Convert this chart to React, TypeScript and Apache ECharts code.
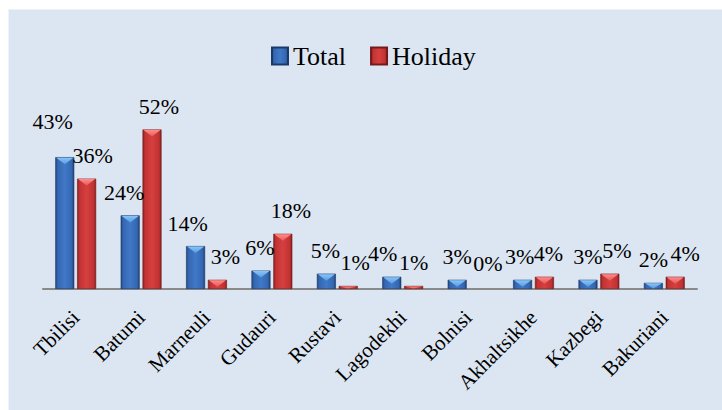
import React, { useEffect, useRef } from "react";
import * as echarts from "echarts";

const categories = ["Tbilisi", "Batumi", "Marneuli", "Gudauri", "Rustavi", "Lagodekhi", "Bolnisi", "Akhaltsikhe", "Kazbegi", "Bakuriani"];
const totalValues = [43, 24, 14, 6, 5, 4, 3, 3, 3, 2];
const holidayValues = [36, 52, 3, 18, 1, 1, 0, 4, 5, 4];
const seriesNames = ["Total", "Holiday"];

// label nudges (pixels) to mimic the reference's manual label placement
const totalLabelShift = [[-12, -13], [-6, 0], [-8, 0], [-1, 0], [-1, 0], [-9, 0], [0, 0], [-3, 0], [0, 0], [0, 0]];
const holidayLabelShift = [[6, 0], [7, 0], [8, 0], [8, 0], [7, 0], [0, 0], [9, -3], [4, 0], [7, 0], [10, 0]];

const FONT = "Liberation Serif";
const BAR_W = 19;
const HALF_PAIR = 10.9;

export default function App() {
  const ref = useRef<HTMLDivElement>(null);
  useEffect(() => {
    if (!ref.current) return;
    const chart = echarts.init(ref.current, undefined, { renderer: "svg" });
    const blueGrad = new echarts.graphic.LinearGradient(0, 0, 1, 0, [
      { offset: 0, color: "#23467f" },
      { offset: 0.12, color: "#3567b2" },
      { offset: 0.5, color: "#4079c8" },
      { offset: 0.88, color: "#3466b0" },
      { offset: 1, color: "#1f3f74" },
    ]);
    const redGrad = new echarts.graphic.LinearGradient(0, 0, 1, 0, [
      { offset: 0, color: "#8a2020" },
      { offset: 0.12, color: "#c23333" },
      { offset: 0.5, color: "#d63f3f" },
      { offset: 0.88, color: "#c03232" },
      { offset: 1, color: "#841e1e" },
    ]);
    const mkLabel = (shift: number[]) => ({
      show: true,
      position: "top",
      distance: 12,
      offset: shift,
      formatter: "{c}%",
      fontFamily: FONT,
      fontSize: 22,
      color: "#000",
    });
    chart.setOption({
      animation: false,
      graphic: {
        elements: [
          {
            type: "rect",
            silent: true,
            z: -100,
            shape: { x: 8.5, y: 9.5, width: 720, height: 410 },
            style: { fill: "#dce6f2", stroke: "#eef3f9", lineWidth: 1 },
          },
        ],
      },
      legend: {
        left: 266,
        top: 38,
        itemWidth: 16,
        itemHeight: 17,
        itemGap: 24,
        icon: "rect",
        textStyle: { fontFamily: FONT, fontSize: 26, color: "#000" },
        data: seriesNames,
      },
      grid: { left: 43, right: 25, top: 105, bottom: 121 },
      xAxis: {
        type: "category",
        data: categories,
        axisLine: { show: true, lineStyle: { color: "#8a8a8a", width: 2 } },
        axisTick: { show: false },
        axisLabel: {
          rotate: 45,
          margin: 25,
          interval: 0,
          fontFamily: FONT,
          fontSize: 21,
          color: "#000",
        },
      },
      yAxis: { type: "value", min: 0, max: 60, show: false, splitLine: { show: false } },
      series: [
        {
          name: seriesNames[0],
          type: "bar",
          barWidth: BAR_W,
          barGap: "15%",
          itemStyle: { color: blueGrad, borderColor: "#1c3866", borderWidth: 0.6 },
          data: totalValues.map((v, i) => ({ value: v, label: mkLabel(totalLabelShift[i]) })),
        },
        {
          name: seriesNames[1],
          type: "bar",
          barWidth: BAR_W,
          barGap: "15%",
          itemStyle: { color: redGrad, borderColor: "#741a1a", borderWidth: 0.6 },
          data: holidayValues.map((v, i) => ({
            value: v,
            label: mkLabel(holidayLabelShift[i]),
            itemStyle: v === 0 ? { color: "rgba(0,0,0,0)", borderWidth: 0 } : undefined,
          })),
        },
        {
          type: "custom",
          silent: true,
          z: 5,
          data: categories.map((_, i) => [i, totalValues[i], holidayValues[i]]),
          renderItem: (params: any, api: any) => {
            const idx = api.value(0);
            const base = api.coord([idx, 0]);
            const children: any[] = [];
            const specs = [
              { v: api.value(1), dx: -HALF_PAIR, top: "#86c6f7", bot: "#5a9ae0" },
              { v: api.value(2), dx: HALF_PAIR, top: "#ff8c8c", bot: "#e85858" },
            ];
            specs.forEach((s) => {
              if (s.v <= 0) return;
              const p = api.coord([idx, s.v]);
              const x = base[0] + s.dx;
              const y = p[1];
              const h = base[1] - y;
              const d = Math.min(7, h - 0.5);
              const hw = BAR_W / 2 - 1;
              children.push({
                type: "polygon",
                shape: { points: [[x - hw, y + 0.5], [x + hw, y + 0.5], [x, y + d]] },
                style: {
                  fill: new echarts.graphic.LinearGradient(0, 0, 0, 1, [
                    { offset: 0, color: s.top },
                    { offset: 1, color: s.bot },
                  ]),
                },
              });
            });
            return { type: "group", children };
          },
        },
      ],
    });
    return () => chart.dispose();
  }, []);
  return <div ref={ref} style={{ position: "absolute", left: 0, top: 0, width: 722, height: 410 }} />;
}
